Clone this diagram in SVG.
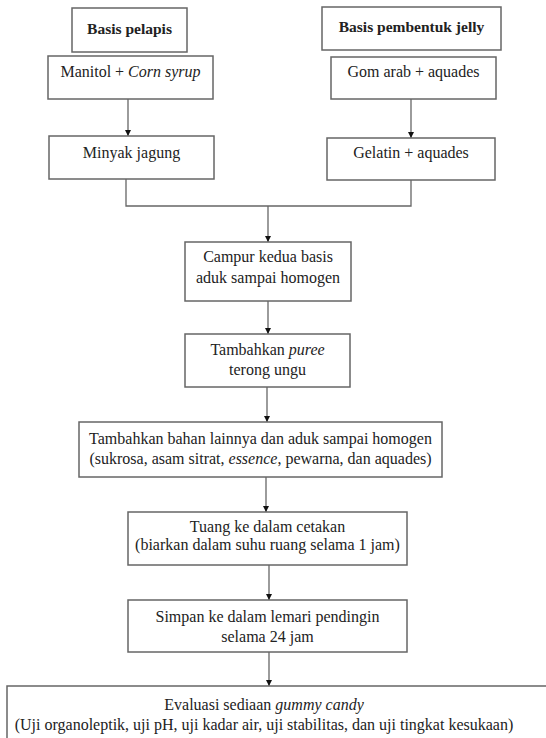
<svg xmlns="http://www.w3.org/2000/svg" width="546" height="738" viewBox="0 0 546 738">
<style>
.box{fill:#fff;stroke:#666;stroke-width:1.5}
.t{font-family:"Liberation Serif","Times New Roman",Times,serif;font-size:16px;fill:#222;text-anchor:middle}
.b{font-weight:bold;font-size:15.5px}
.i{font-style:italic}
.c{fill:none;stroke:#666;stroke-width:1.3}
</style>
<defs>
<marker id="ah" viewBox="0 0 10 10" refX="10" refY="5" markerWidth="6" markerHeight="6" orient="auto" markerUnits="userSpaceOnUse">
<path d="M0,0 L10,5 L0,10 z" fill="#111"/>
</marker>
</defs>
<rect width="546" height="738" fill="#fff"/>
<g id="connectors">
<line class="c" x1="128" y1="99" x2="128" y2="136" marker-end="url(#ah)"/>
<line class="c" x1="411" y1="99" x2="411" y2="138" marker-end="url(#ah)"/>
<polyline class="c" points="126,179 126,206 411,206 411,180"/>
<line class="c" x1="268" y1="206" x2="268" y2="242" marker-end="url(#ah)"/>
<line class="c" x1="268" y1="301" x2="268" y2="334" marker-end="url(#ah)"/>
<line class="c" x1="267" y1="387" x2="267" y2="422" marker-end="url(#ah)"/>
<line class="c" x1="266" y1="477" x2="266" y2="512" marker-end="url(#ah)"/>
<line class="c" x1="269" y1="565" x2="269" y2="600" marker-end="url(#ah)"/>
<line class="c" x1="269" y1="652" x2="269" y2="686" marker-end="url(#ah)"/>
</g>
<g id="basis-pelapis">
<rect class="box" x="72" y="8" width="115" height="44"/>
<text class="t b" x="129.5" y="34">Basis pelapis</text>
</g>
<g id="basis-jelly">
<rect class="box" x="322" y="7" width="179" height="43"/>
<text class="t b" x="411.5" y="32">Basis pembentuk jelly</text>
</g>
<g id="manitol">
<rect class="box" x="48" y="56" width="165" height="43"/>
<text class="t" x="130.5" y="77">Manitol + <tspan class="i">Corn syrup</tspan></text>
</g>
<g id="gom-arab">
<rect class="box" x="331" y="57" width="165" height="42"/>
<text class="t" x="413.5" y="77">Gom arab + aquades</text>
</g>
<g id="minyak">
<rect class="box" x="49" y="136" width="165" height="43"/>
<text class="t" x="131.5" y="158">Minyak jagung</text>
</g>
<g id="gelatin">
<rect class="box" x="327" y="138" width="168" height="42"/>
<text class="t" x="411" y="158">Gelatin + aquades</text>
</g>
<g id="campur">
<rect class="box" x="185" y="242" width="166" height="59"/>
<text class="t" x="268" y="262">Campur kedua basis</text>
<text class="t" x="268" y="283">aduk sampai homogen</text>
</g>
<g id="puree">
<rect class="box" x="185" y="334" width="165" height="53"/>
<text class="t" x="267.5" y="355">Tambahkan <tspan class="i">puree</tspan></text>
<text class="t" x="267.5" y="375">terong ungu</text>
</g>
<g id="bahan">
<rect class="box" x="79" y="422" width="363" height="55"/>
<text class="t" x="260.5" y="444">Tambahkan bahan lainnya dan aduk sampai homogen</text>
<text class="t" x="260.5" y="464">(sukrosa, asam sitrat, <tspan class="i">essence</tspan>, pewarna, dan aquades)</text>
</g>
<g id="tuang">
<rect class="box" x="128" y="512" width="279" height="53"/>
<text class="t" x="267.5" y="532">Tuang ke dalam cetakan</text>
<text class="t" x="267.5" y="550">(biarkan dalam suhu ruang selama 1 jam)</text>
</g>
<g id="simpan">
<rect class="box" x="128" y="600" width="279" height="52"/>
<text class="t" x="267.5" y="622">Simpan ke dalam lemari pendingin</text>
<text class="t" x="267.5" y="642">selama 24 jam</text>
</g>
<g id="evaluasi">
<rect class="box" x="7" y="686" width="560" height="60"/>
<text class="t" x="264" y="710">Evaluasi sediaan <tspan class="i">gummy candy</tspan></text>
<text class="t" x="264" y="730">(Uji organoleptik, uji pH, uji kadar air, uji stabilitas, dan uji tingkat kesukaan)</text>
</g>
</svg>
